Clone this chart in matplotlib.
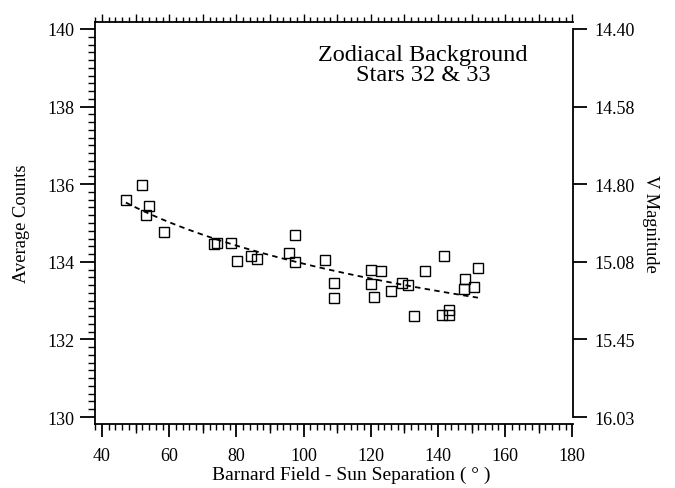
import numpy as np
import matplotlib
matplotlib.use("Agg")
import matplotlib.pyplot as plt
from matplotlib.ticker import MultipleLocator, NullFormatter

plt.rcParams['font.family'] = ['Liberation Serif', 'DejaVu Serif']

# Barnard field - Sun separation (deg) and average counts
sep = [47.1, 52.0, 53.1, 54.1, 58.3, 73.3, 74.1, 78.3, 80.2, 84.2, 86.2,
       95.8, 97.3, 97.3, 106.5, 109.1, 109.1, 120.1, 120.1, 121.1, 123.1,
       126.1, 129.2, 131.0, 132.9, 136.0, 141.2, 141.9, 143.2, 143.2,
       147.8, 147.9, 150.8, 151.9]
counts = [135.60, 135.98, 135.21, 135.43, 134.76, 134.46, 134.48, 134.49,
          134.03, 134.15, 134.07, 134.22, 134.68, 133.99, 134.05, 133.45,
          133.07, 133.79, 133.43, 133.10, 133.77, 133.24, 133.45, 133.40,
          132.61, 133.76, 132.64, 134.16, 132.76, 132.62, 133.30, 133.56,
          133.34, 133.83]

# right axis: V magnitude at the count ticks
count_ticks = [130, 132, 134, 136, 138, 140]
mag_labels = ['16.03', '15.45', '15.08', '14.80', '14.58', '14.40']

fig = plt.figure(figsize=(6.75, 4.89), dpi=100)
ax = fig.add_axes([95/675, 1-425/489, 478/675, 402/489])

ax.plot(sep, counts, 's', ms=7.4, mfc='none', mec='black', mew=1.0)

# fit, counts linear in log(separation), drawn dashed
coef = np.polyfit(np.log(sep), counts, 1)
xf = np.linspace(min(sep), max(sep), 100)
ax.plot(xf, np.polyval(coef, np.log(xf)), color='black', lw=1.3, ls=(0, (3, 2.4)))

ax.set_xlim(37.9, 180.2)
ax.set_ylim(129.82, 140.18)

for s in ['left', 'bottom', 'top']:
    ax.spines[s].set_linewidth(1.3)
ax.spines['right'].set_visible(False)

# bottom axis
ax.set_xticks(range(40, 181, 20))
ax.xaxis.set_minor_locator(MultipleLocator(2))
ax.tick_params(axis='x', which='major', direction='out', length=9.5, width=1.3,
               labelsize=13, pad=7)
ax.tick_params(axis='x', which='minor', direction='out', length=4.3, width=1.0)

mid = ax.secondary_xaxis('bottom')
mid.set_xticks(range(50, 180, 20))
mid.xaxis.set_major_formatter(NullFormatter())
mid.tick_params(length=6.5, width=1.0, direction='out')
mid.spines['bottom'].set_visible(False)

# top axis, ticks only
top = ax.secondary_xaxis('top')
top.set_xticks(range(40, 181, 10))
top.xaxis.set_minor_locator(MultipleLocator(2))
top.xaxis.set_major_formatter(NullFormatter())
top.tick_params(which='major', length=6, width=1.0, direction='out')
top.tick_params(which='minor', length=3.6, width=1.0, direction='out')
top.spines['top'].set_visible(False)

# left axis
ax.set_yticks(count_ticks)
ax.yaxis.set_minor_locator(MultipleLocator(0.2))
ax.tick_params(axis='y', which='major', direction='out', length=11, width=1.3,
               labelsize=13, pad=3.5)
ax.tick_params(axis='y', which='minor', direction='out', length=5, width=1.0)

# right axis with magnitudes
rax = ax.twinx()
rax.set_ylim(ax.get_ylim())
rax.set_yticks(count_ticks, labels=mag_labels)
rax.tick_params(axis='y', direction='out', length=10, width=1.3, labelsize=13, pad=5.5)
for s in ['left', 'bottom', 'top']:
    rax.spines[s].set_visible(False)
rax.spines['right'].set_bounds(130, 140)
rax.spines['right'].set_linewidth(1.3)
rax.set_ylabel('V Magnitude', fontsize=13.3, rotation=-90, labelpad=17)

ax.set_ylabel('Average Counts', fontsize=13.3, labelpad=13)
ax.set_xlabel('Barnard Field - Sun Separation ( ° )', fontsize=14)
ax.xaxis.set_label_coords(0.536, -0.104)

ax.text(0.686, 0.945, 'Zodiacal Background\nStars 32 & 33', transform=ax.transAxes,
        ha='center', va='top', fontsize=17.5, linespacing=0.95)

fig.savefig('out.png', dpi=100)
